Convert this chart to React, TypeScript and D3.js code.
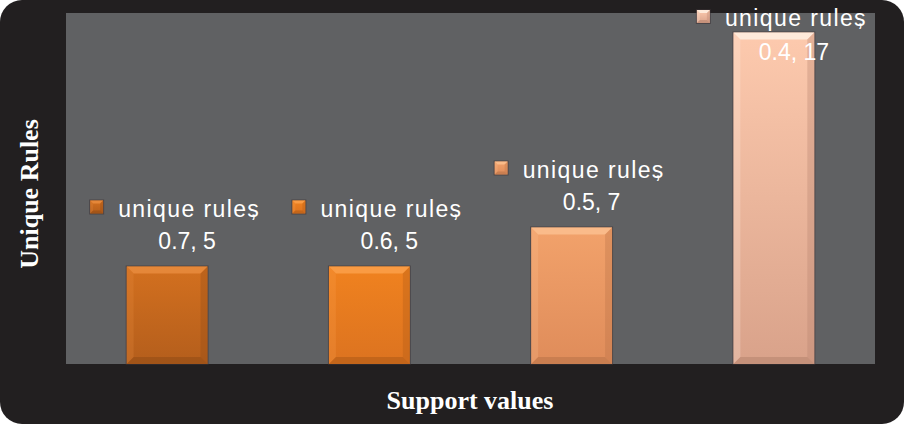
import React from "react";
import * as d3 from "d3";

// chart data
const supportValues = ["0.7", "0.6", "0.5", "0.4"];
const uniqueRules = [5, 5, 7, 17];
const seriesName = "unique rules";
const yMax = 18;

// palette per bar: [top, bottom, light bevel, dark bevel]
const palette = [
  ["#d3701f", "#b45e1c", "#e98c3e", "#944c16"],
  ["#f0821f", "#dc7320", "#fba04a", "#b25c18"],
  ["#f2a26b", "#df8c5a", "#fbbf8f", "#bb7449"],
  ["#fdcaae", "#d9a28a", "#fff0e2", "#b7856f"],
];

const W = 904;
const H = 424;
const plot = { left: 66, right: 875, top: 13, bottom: 364 };

const BevelRect = ({ x, y, w, h, b, c, id }: any) => (
  <g>
    <defs>
      <linearGradient id={id} x1="0" y1="0" x2="0" y2="1">
        <stop offset="0" stopColor={c[0]} />
        <stop offset="1" stopColor={c[1]} />
      </linearGradient>
    </defs>
    <rect x={x - 1} y={y - 1} width={w + 2} height={h + 2} fill="#3a3234" opacity={0.55} />
    <rect x={x} y={y} width={w} height={h} fill={`url(#${id})`} />
    <polygon
      points={`${x},${y} ${x + w},${y} ${x + w - b},${y + b} ${x + b},${y + b}`}
      fill={c[2]}
      opacity={0.85}
    />
    <polygon
      points={`${x},${y} ${x + b},${y + b} ${x + b},${y + h - b} ${x},${y + h}`}
      fill={c[2]}
      opacity={0.25}
    />
    <polygon
      points={`${x + w},${y} ${x + w},${y + h} ${x + w - b},${y + h - b} ${x + w - b},${y + b}`}
      fill={c[3]}
      opacity={0.35}
    />
    <polygon
      points={`${x},${y + h} ${x + b},${y + h - b} ${x + w - b},${y + h - b} ${x + w},${y + h}`}
      fill={c[3]}
      opacity={0.6}
    />
  </g>
);

const App = () => {
  const x = d3
    .scaleBand<string>()
    .domain(supportValues)
    .range([plot.left, plot.right])
    .paddingInner(0.6)
    .paddingOuter(0.3);
  const y = d3.scaleLinear().domain([0, yMax]).range([plot.bottom, plot.top]);

  return (
    <svg width={W} height={H} style={{ position: "absolute", left: 0, top: 0 }}>
      <rect x={0} y={0} width={W} height={H} fill="#ffffff" />
      <rect x={0} y={0} width={W} height={H} rx={22} ry={22} fill="#221f20" />
      <rect
        x={plot.left}
        y={plot.top}
        width={plot.right - plot.left}
        height={plot.bottom - plot.top}
        fill="#606163"
      />
      {supportValues.map((s, i) => {
        const bx = x(s)!;
        const by = y(uniqueRules[i]);
        return (
          <BevelRect
            key={"b" + s}
            id={"g" + i}
            x={bx}
            y={by}
            w={x.bandwidth()}
            h={plot.bottom - by}
            b={7}
            c={palette[i]}
          />
        );
      })}
      {supportValues.map((s, i) => {
        const cx = x(s)! + x.bandwidth() / 2;
        const top = y(uniqueRules[i]);
        const l1 = Math.max(top - 50, 26);
        const l2 = l1 + 32 + (l1 === 26 ? 2 : 0);
        return (
          <g key={"l" + s} fill="#ffffff" fontFamily="Liberation Sans, Arial, sans-serif" fontSize={23}>
            <BevelRect
              id={"m" + i}
              x={cx - 77}
              y={l1 - 16}
              w={13}
              h={13}
              b={3}
              c={palette[i]}
            />
            <text x={cx - 49} y={l1} letterSpacing={1.4}>
              {seriesName}
              <tspan dx={-10}>,</tspan>
            </text>
            <text x={cx + 20} y={l2} textAnchor="middle">
              {`${s}, ${uniqueRules[i]}`}
            </text>
          </g>
        );
      })}
      <text
        transform={`translate(38,194) rotate(-90)`}
        textAnchor="middle"
        fill="#ffffff"
        fontFamily="Liberation Serif, Times New Roman, serif"
        fontWeight="bold"
        fontSize={26}
      >
        Unique Rules
      </text>
      <text
        x={470}
        y={409}
        textAnchor="middle"
        fill="#ffffff"
        fontFamily="Liberation Serif, Times New Roman, serif"
        fontWeight="bold"
        fontSize={26}
      >
        Support values
      </text>
    </svg>
  );
};

export default App;
